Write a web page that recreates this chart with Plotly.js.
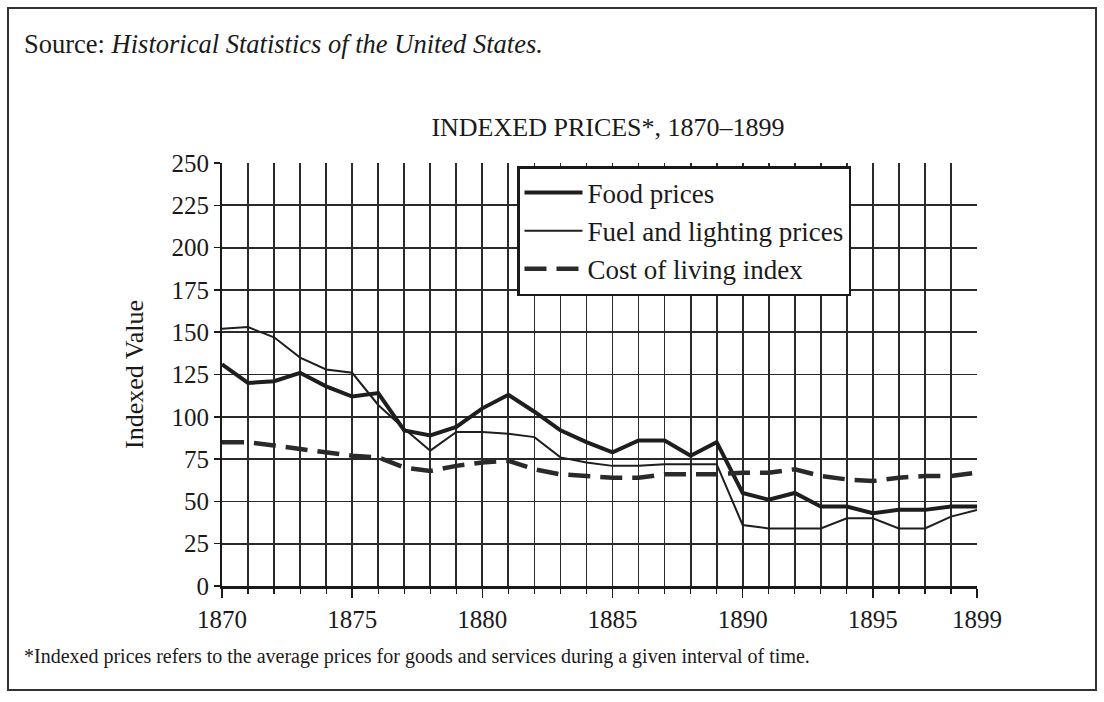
<!DOCTYPE html>
<html>
<head>
<meta charset="utf-8">
<script src="https://cdn.plot.ly/plotly-3.0.1.min.js"></script>
<style>html,body{margin:0;padding:0;background:#fff;}#chart{width:1104px;height:702px;}</style>
</head>
<body>
<div id="chart"></div>
<script>
const years = [1870,1871,1872,1873,1874,1875,1876,1877,1878,1879,1880,1881,1882,1883,1884,1885,1886,1887,1888,1889,1890,1891,1892,1893,1894,1895,1896,1897,1898,1899];
const foodPrices = [131,120,121,126,118,112,114,92,89,94,105,113,103,92,85,79,86,86,77,85,55,51,55,47,47,43,45,45,47,47];
const fuelPrices = [152,153,147,135,128,126,107,93,80,91,91,90,88,76,73,71,71,72,72,72,36,34,34,34,40,40,34,34,41,45];
const costOfLiving = [85,85,83,81,79,77,76,70,68,71,73,74,69,66,65,64,64,66,66,66,67,67,69,65,63,62,64,65,65,67];
const xTickVals = [1870,1875,1880,1885,1890,1895,1899];
const xTickText = ['1870','1875','1880','1885','1890','1895','1899'];
const yTickVals = [0,25,50,75,100,125,150,175,200,225,250];
const seriesNames = ['Food prices','Fuel and lighting prices','Cost of living index'];

const serif = 'Liberation Serif, Times New Roman, serif';
const L = 222, R = 977, T = 163, B = 586;
const px = v => (v - L) / (R - L);
const py = v => (B - v) / (B - T);

const traces = [
  {x: years, y: foodPrices, name: seriesNames[0], mode: 'lines', line: {color: '#1e1e1e', width: 4}},
  {x: years, y: fuelPrices, name: seriesNames[1], mode: 'lines', line: {color: '#1e1e1e', width: 2}},
  {x: years, y: costOfLiving, name: seriesNames[2], mode: 'lines', line: {color: '#2a2a2a', width: 4.5, dash: '22px,10px'}}
];

const layout = {
  width: 1104, height: 702,
  paper_bgcolor: '#fff', plot_bgcolor: '#fff',
  margin: {l: L, r: 1104 - R, t: T, b: 702 - B},
  font: {family: serif, color: '#1a1a1a'},
  showlegend: true,
  title: {text: 'INDEXED PRICES*, 1870–1899', font: {family: serif, size: 26, color: '#1a1a1a'},
          x: 608/1104, xref: 'container', xanchor: 'center', y: 1 - 127/702, yref: 'container', yanchor: 'middle'},
  xaxis: {
    range: [1870, 1899], tickmode: 'array', tickvals: xTickVals, ticktext: xTickText,
    ticks: 'outside', ticklen: 9, tickcolor: '#1a1a1a', tickwidth: 1.5,
    showgrid: true, gridcolor: '#2a2a2a', gridwidth: 1.8,
    showline: true, linecolor: '#1a1a1a', linewidth: 2.5, zeroline: false,
    tickfont: {family: serif, size: 25, color: '#1a1a1a'},
    minor: {dtick: 1, tick0: 1870, showgrid: true, gridcolor: '#2a2a2a', gridwidth: 1.8, ticks: 'outside', ticklen: 5, tickcolor: '#1a1a1a', tickwidth: 1.2}
  },
  yaxis: {
    range: [0, 250], tickmode: 'array', tickvals: yTickVals,
    ticks: 'outside', ticklen: 6, tickcolor: '#1a1a1a', tickwidth: 1.5,
    showgrid: true, gridcolor: '#2a2a2a', gridwidth: 1.8,
    showline: true, linecolor: '#1a1a1a', linewidth: 2, zeroline: false,
    tickfont: {family: serif, size: 25, color: '#1a1a1a'},
    title: {text: 'Indexed Value', font: {family: serif, size: 26, color: '#1a1a1a'}, standoff: 20}
  },
  legend: {
    x: px(517), y: py(166), xanchor: 'left', yanchor: 'top',
    bgcolor: '#fff', bordercolor: '#1a1a1a', borderwidth: 2.5,
    font: {family: serif, size: 27, color: '#1a1a1a'}, tracegroupgap: 0, itemwidth: 58
  },
  annotations: [
    {xref: 'paper', yref: 'paper', x: px(22), y: py(44), xanchor: 'left', yanchor: 'middle', showarrow: false,
     text: 'Source: <i>Historical Statistics of the United States.</i>', font: {family: serif, size: 26.5, color: '#1a1a1a'}},
    {xref: 'paper', yref: 'paper', x: px(22), y: py(656), xanchor: 'left', yanchor: 'middle', showarrow: false,
     text: '*Indexed prices refers to the average prices for goods and services during a given interval of time.', font: {family: serif, size: 20, color: '#1a1a1a'}}
  ],
  shapes: [
    {type: 'rect', xref: 'paper', yref: 'paper', x0: px(8), x1: px(1096), y0: py(690), y1: py(8), line: {color: '#333', width: 2}, layer: 'below'}
  ]
};

Plotly.newPlot('chart', traces, layout, {displayModeBar: false, staticPlot: true});
</script>
</body>
</html>
